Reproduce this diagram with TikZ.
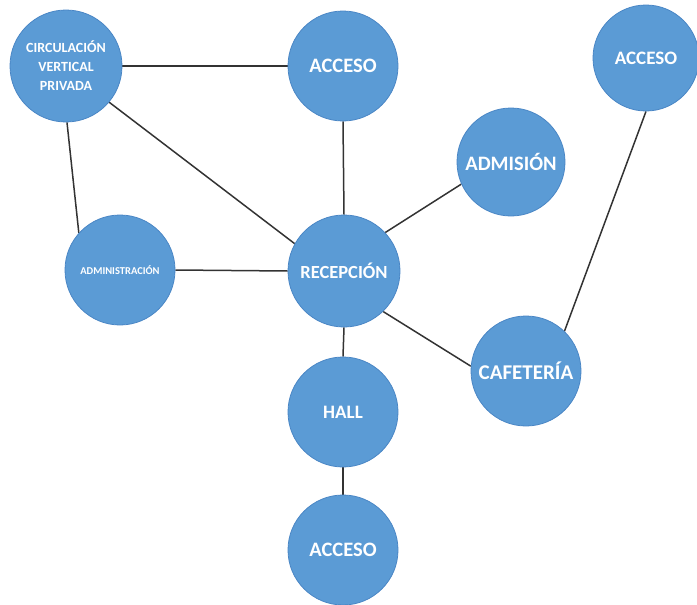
\documentclass[tikz,border=0pt]{standalone}
\usepackage{fontspec}
\setmainfont{Carlito}
\usetikzlibrary{backgrounds}
\definecolor{bub}{HTML}{5B9BD5}
\definecolor{bubline}{HTML}{4A86C5}
\definecolor{edgec}{HTML}{333333}
\tikzset{
  bubble/.style={circle, fill=bub, draw=bubline, line width=0.8pt, inner sep=0pt, text=white, align=center, font=\fontsize{20}{22}\selectfont\bfseries},
  link/.style={draw=edgec, line width=1.5pt}
}
\begin{document}
\begin{tikzpicture}[x=1pt,y=-1pt]
\useasboundingbox (0,0) rectangle (697,605);
\node[bubble, minimum size=112pt, font=\fontsize{14}{19}\selectfont\bfseries] (cvp) at (66,66) {CIRCULACIÓN\\VERTICAL\\PRIVADA};
\node[bubble, minimum size=110pt, font=\fontsize{20.5}{23}\selectfont\bfseries] (acc1) at (343,66) {ACCESO};
\node[bubble, minimum size=106pt, font=\fontsize{19}{22}\selectfont\bfseries] (acc2) at (646,58) {ACCESO};
\node[bubble, minimum size=108pt, font=\fontsize{20.5}{23}\selectfont\bfseries] (adm) at (511,162) {ADMISIÓN};
\node[bubble, minimum size=110pt, font=\fontsize{10.5}{13}\selectfont\bfseries] (admin) at (120,270) {ADMINISTRACIÓN};
\node[bubble, minimum size=112pt, font=\fontsize{18.5}{21}\selectfont\bfseries] (rec) at (344,271) {RECEPCIÓN};
\node[bubble, minimum size=110pt, font=\fontsize{21}{23}\selectfont\bfseries] (caf) at (526,371) {CAFETERÍA};
\node[bubble, minimum size=110pt, font=\fontsize{19}{22}\selectfont\bfseries] (hall) at (343,412) {HALL};
\node[bubble, minimum size=110pt, font=\fontsize{20.5}{23}\selectfont\bfseries] (acc3) at (343,550) {ACCESO};
\begin{scope}[on background layer]
\draw[link] (cvp.east) -- (acc1.west);
\draw[link] (cvp.-89) -- (admin.138);
\draw[link] (cvp.-40) -- (rec.151);
\draw[link] (acc1.south) -- (rec.north);
\draw[link] (adm.-156) -- (rec.43);
\draw[link] (admin.east) -- (rec.west);
\draw[link] (rec.-46) -- (caf.175);
\draw[link] (rec.south) -- (hall.north);
\draw[link] (hall.south) -- (acc3.north);
\draw[link] (acc2.-90) -- (caf.46);
\end{scope}
\end{tikzpicture}
\end{document}
